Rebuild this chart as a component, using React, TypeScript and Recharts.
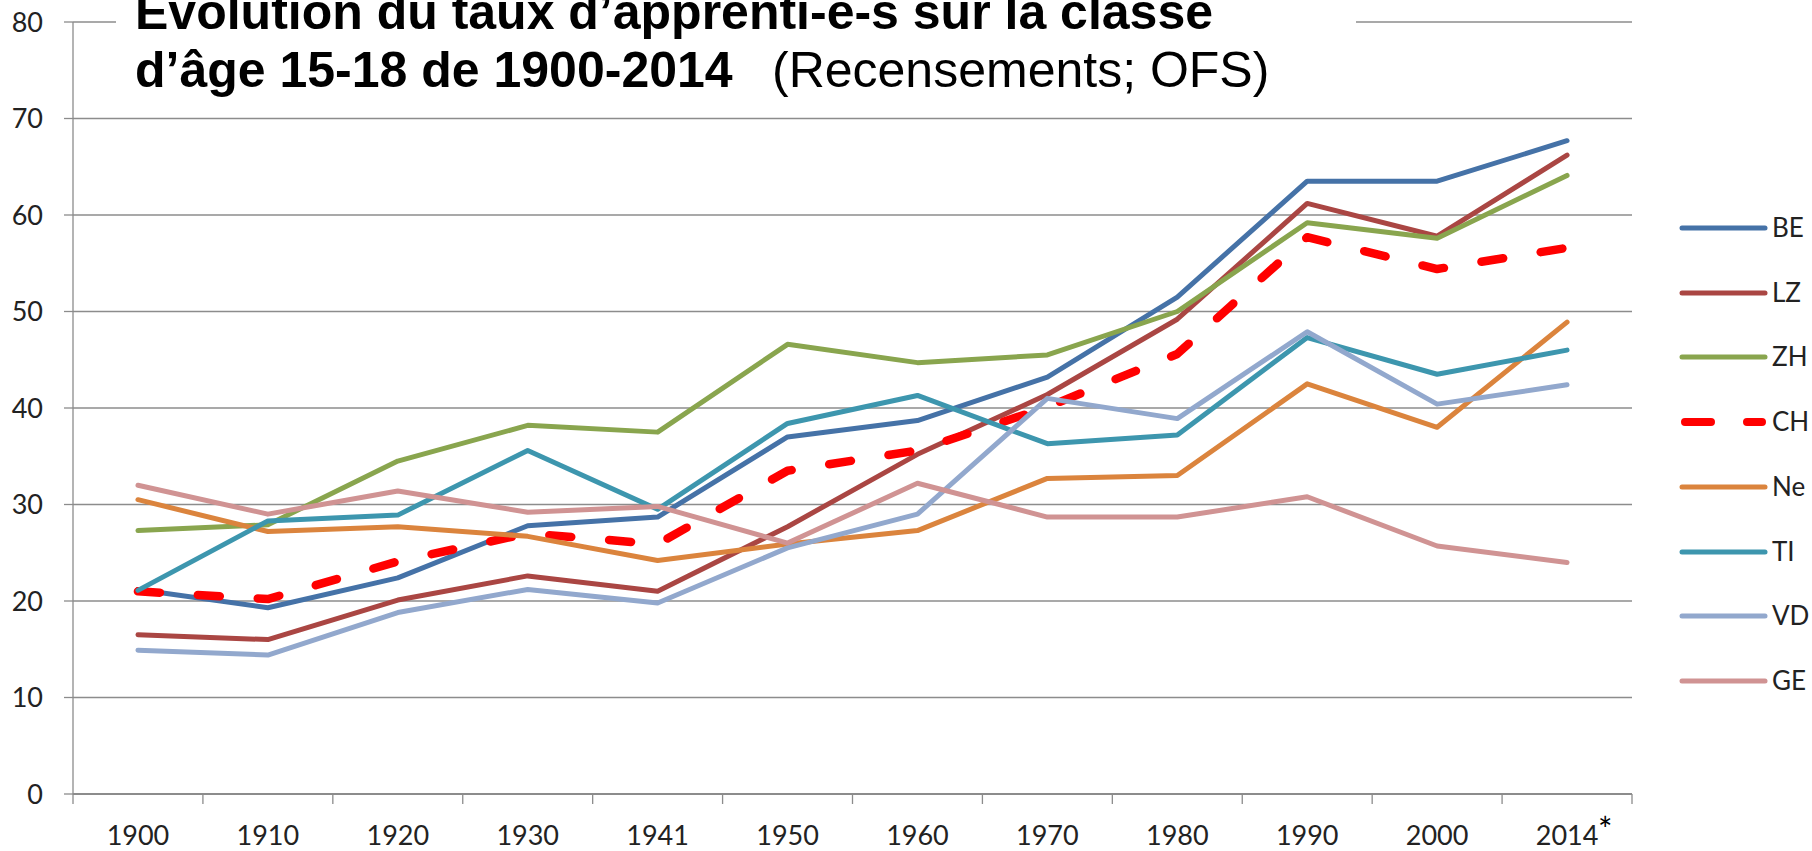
import { LineChart, Line, XAxis, YAxis, CartesianGrid } from "recharts";

const years = ["1900", "1910", "1920", "1930", "1941", "1950", "1960", "1970", "1980", "1990", "2000", "2014*"];
const yTicks = [0, 10, 20, 30, 40, 50, 60, 70, 80];

const be = [21.2, 19.3, 22.4, 27.8, 28.7, 37.0, 38.7, 43.2, 51.5, 63.5, 63.5, 67.7];
const lz = [16.5, 16.0, 20.1, 22.6, 21.0, 27.7, 35.2, 41.4, 49.2, 61.2, 57.8, 66.2];
const zh = [27.3, 27.9, 34.5, 38.2, 37.5, 46.6, 44.7, 45.5, 50.0, 59.2, 57.6, 64.1];
const ch = [21.0, 20.2, 24.1, 27.0, 25.9, 33.5, 35.6, 40.1, 45.6, 57.7, 54.4, 56.6];
const ne = [30.5, 27.2, 27.7, 26.7, 24.2, 25.9, 27.3, 32.7, 33.0, 42.5, 38.0, 48.9];
const ti = [21.1, 28.3, 28.9, 35.6, 29.5, 38.4, 41.3, 36.3, 37.2, 47.3, 43.5, 46.0];
const vd = [14.9, 14.4, 18.8, 21.2, 19.8, 25.5, 29.0, 41.0, 38.9, 47.9, 40.4, 42.4];
const ge = [32.0, 29.0, 31.4, 29.2, 29.8, 26.0, 32.2, 28.7, 28.7, 30.8, 25.7, 24.0];

const series = [
  { key: "BE", values: be, color: "#4572A7" },
  { key: "LZ", values: lz, color: "#AA4643" },
  { key: "ZH", values: zh, color: "#89A54E" },
  { key: "CH", values: ch, color: "#FF0000", dashed: true },
  { key: "Ne", values: ne, color: "#DB843D" },
  { key: "TI", values: ti, color: "#3D96AE" },
  { key: "VD", values: vd, color: "#92A8CD" },
  { key: "GE", values: ge, color: "#D09393" },
];

const data = years.map((year, i) => {
  const row: Record<string, string | number> = { year };
  series.forEach((s) => (row[s.key] = s.values[i]));
  return row;
});

const W = 1812;
const H = 851;
const LEFT = 73;
const RIGHT = 180;
const TOP = 22;
const XAXIS_H = 57;
const PLOT_W = W - LEFT - RIGHT;
const BAND = PLOT_W / years.length;
const TICK_SIZE = 10;
const TICK_MARGIN = 22;
const GRID = "#8c8c8c";
const FONT = "Lato, 'Open Sans', sans-serif";

function XTick(props: any) {
  const { x, y, payload, index } = props;
  const axisY = y - TICK_SIZE - TICK_MARGIN;
  const label = String(payload.value);
  const star = label.endsWith("*");
  const text = star ? label.slice(0, -1) : label;
  return (
    <g>
      <line x1={x - BAND / 2} x2={x - BAND / 2} y1={axisY} y2={axisY + TICK_SIZE} stroke={GRID} strokeWidth={1.3} />
      {index === years.length - 1 && (
        <line x1={x + BAND / 2} x2={x + BAND / 2} y1={axisY} y2={axisY + TICK_SIZE} stroke={GRID} strokeWidth={1.3} />
      )}
      <text x={x} y={y} dy="0.71em" textAnchor="middle" fill="#222" fontSize={27} fontFamily={FONT}>
        {text}
      </text>
      {star && (
        <text x={x + 31} y={axisY + 48} textAnchor="start" fill="#000" fontSize={34} fontFamily={FONT}>
          *
        </text>
      )}
    </g>
  );
}

function Title() {
  return (
    <svg width={1240} height={100} style={{ position: "absolute", left: 116, top: 0 }}>
      <rect x={0} y={0} width={1240} height={100} fill="#fff" />
      <text x={19} y={29} fontFamily="'Liberation Sans', Arial, sans-serif" fontSize={50} fontWeight="bold" fill="#000">
        Evolution du taux d’apprenti-e-s sur la classe
      </text>
      <text x={19} y={87} fontFamily="'Liberation Sans', Arial, sans-serif" fontSize={50} fill="#000">
        <tspan fontWeight="bold">d’âge 15-18 de 1900-2014</tspan>
        <tspan x={656}>(Recensements; OFS)</tspan>
      </text>
    </svg>
  );
}

function LegendBox() {
  return (
    <div style={{ position: "absolute", left: 1676, top: 212 }}>
      {series.map((s, i) => (
        <div key={s.key} style={{ position: "absolute", top: i * 64.7, left: 0, width: 136, height: 32 }}>
          <svg width={96} height={32} style={{ position: "absolute", left: 0, top: 0 }}>
            <line
              x1={s.dashed ? 9 : 6}
              x2={s.dashed ? 86 : 89}
              y1={16}
              y2={16}
              stroke={s.color}
              strokeWidth={s.dashed ? 8 : 5}
              strokeLinecap="round"
              strokeDasharray={s.dashed ? "26 36" : undefined}
            />
          </svg>
          <span
            style={{
              position: "absolute",
              left: 96,
              top: 0,
              fontFamily: FONT,
              fontSize: 26,
              color: "#222",
              lineHeight: "30px",
            }}
          >
            {s.key}
          </span>
        </div>
      ))}
    </div>
  );
}

export default function App() {
  return (
    <div style={{ position: "absolute", left: 0, top: 0, width: W, height: H, background: "#fff" }}>
      <LineChart width={W} height={H} data={data} margin={{ top: TOP, right: RIGHT, bottom: 0, left: 0 }}>
        <CartesianGrid horizontal vertical={false} stroke={GRID} strokeWidth={1.3} />
        <XAxis
          dataKey="year"
          height={XAXIS_H}
          interval={0}
          padding={{ left: BAND / 2, right: BAND / 2 }}
          tickSize={TICK_SIZE}
          tickMargin={TICK_MARGIN}
          tickLine={false}
          axisLine={{ stroke: GRID, strokeWidth: 2 }}
          tick={<XTick />}
        />
        <YAxis
          width={LEFT}
          domain={[0, 80]}
          ticks={yTicks}
          interval={0}
          tickSize={9}
          tickMargin={21}
          tickLine={{ stroke: GRID, strokeWidth: 1.3 }}
          axisLine={{ stroke: GRID, strokeWidth: 1.3 }}
          tick={{ fill: "#222", fontSize: 27, fontFamily: FONT }}
        />
        {series.map((s) => (
          <Line
            key={s.key}
            type="linear"
            dataKey={s.key}
            stroke={s.color}
            strokeWidth={s.dashed ? 8.5 : 5}
            strokeDasharray={s.dashed ? "22 38" : undefined}
            strokeLinecap="round"
            strokeLinejoin="round"
            dot={false}
            activeDot={false}
            isAnimationActive={false}
          />
        ))}
      </LineChart>
      <Title />
      <LegendBox />
    </div>
  );
}
